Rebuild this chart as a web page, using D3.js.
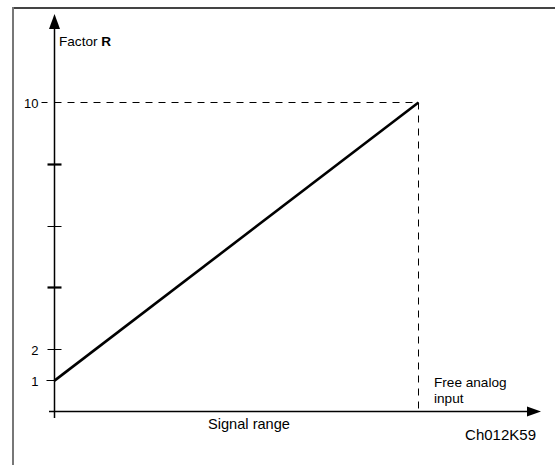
<!DOCTYPE html>
<html>
<head>
<meta charset="utf-8">
<script src="https://cdn.jsdelivr.net/npm/d3@7"></script>
<style>
  html, body { margin: 0; padding: 0; background: #fff; }
  svg { display: block; font-family: Arial, "Liberation Sans", sans-serif; }
</style>
</head>
<body>
<svg id="chart" width="555" height="465"></svg>
<script>
// ---- data ----
const signal = [0, 1];          // signal range (normalized)
const factorR = [1, 10];        // factor R values
const yTickValues = [1, 2, 4, 6, 8, 10];
const yTickLabels = ["1", "2", "", "", "", "10"];
const yTickThick = [false, false, true, false, true, false];
const yTitle = "Factor ";
const yTitleBold = "R";
const xTitle = "Signal range";
const xEndLabel = ["Free analog", "input"];
const figCode = "Ch012K59";

const svg = d3.select("#chart");

// frame
svg.append("line").attr("x1", 13).attr("y1", 8).attr("x2", 555).attr("y2", 8)
  .attr("stroke", "#444").attr("stroke-width", 2);
svg.append("line").attr("x1", 13).attr("y1", 7).attr("x2", 13).attr("y2", 465)
  .attr("stroke", "#777").attr("stroke-width", 2);

const x = d3.scaleLinear().domain([0, 1]).range([54.5, 418.5]);
const y = d3.scaleLinear().domain([0, 10]).range([411.5, 102.5]);

// dashed guides
svg.append("line").attr("x1", x(0)).attr("x2", x(1)).attr("y1", y(10)).attr("y2", y(10))
  .attr("stroke", "#000").attr("stroke-width", 1).attr("stroke-dasharray", "7,6");
svg.append("line").attr("x1", x(1)).attr("x2", x(1)).attr("y1", y(10)).attr("y2", y(0))
  .attr("stroke", "#000").attr("stroke-width", 1).attr("stroke-dasharray", "7,6");

// axes lines
svg.append("line").attr("x1", x(0)).attr("x2", x(0)).attr("y1", 28).attr("y2", 418)
  .attr("stroke", "#000").attr("stroke-width", 1.5);
svg.append("line").attr("x1", 49).attr("x2", 528).attr("y1", y(0)).attr("y2", y(0))
  .attr("stroke", "#000").attr("stroke-width", 1.5);

// arrows
svg.append("path")
  .attr("d", `M${x(0)},14 L${x(0) - 5.5},29 L${x(0) + 5.5},29 Z`).attr("fill", "#000");
svg.append("path")
  .attr("d", `M541,${y(0)} L527,${y(0) - 5} L527,${y(0) + 5} Z`).attr("fill", "#000");

// y ticks
yTickValues.forEach((v, i) => {
  const yy = Math.round(y(v) - 0.5) + 0.5;
  let left = x(0) - 7, right = x(0) + 7;
  if (v === 1) { left = x(0) - 8; right = x(0); }
  if (v === 10) { left = x(0) - 13; right = x(0) - 7; }
  svg.append("line").attr("x1", left).attr("x2", right).attr("y1", yy).attr("y2", yy)
    .attr("stroke", "#000").attr("stroke-width", yTickThick[i] ? 2.2 : 1);
  if (yTickLabels[i]) {
    svg.append("text").attr("x", 38.5).attr("y", yy + 5)
      .attr("text-anchor", "end").attr("font-size", 13).text(yTickLabels[i]);
  }
});

// data line
const line = d3.line().x(d => x(d[0])).y(d => y(d[1]));
svg.append("path").datum(signal.map((s, i) => [s, factorR[i]]))
  .attr("d", line).attr("fill", "none").attr("stroke", "#000").attr("stroke-width", 2.6);

// titles
const t = svg.append("text").attr("x", 59).attr("y", 46).attr("font-size", 13.6);
t.append("tspan").text(yTitle);
t.append("tspan").attr("font-weight", "bold").text(yTitleBold);

svg.append("text").attr("x", 249).attr("y", 429).attr("text-anchor", "middle")
  .attr("font-size", 14.6).text(xTitle);

xEndLabel.forEach((s, i) => {
  svg.append("text").attr("x", 434).attr("y", 387 + i * 15.5).attr("font-size", 13.6).text(s);
});

svg.append("text").attr("x", 536).attr("y", 440).attr("text-anchor", "end")
  .attr("font-size", 15).text(figCode);
</script>
</body>
</html>
